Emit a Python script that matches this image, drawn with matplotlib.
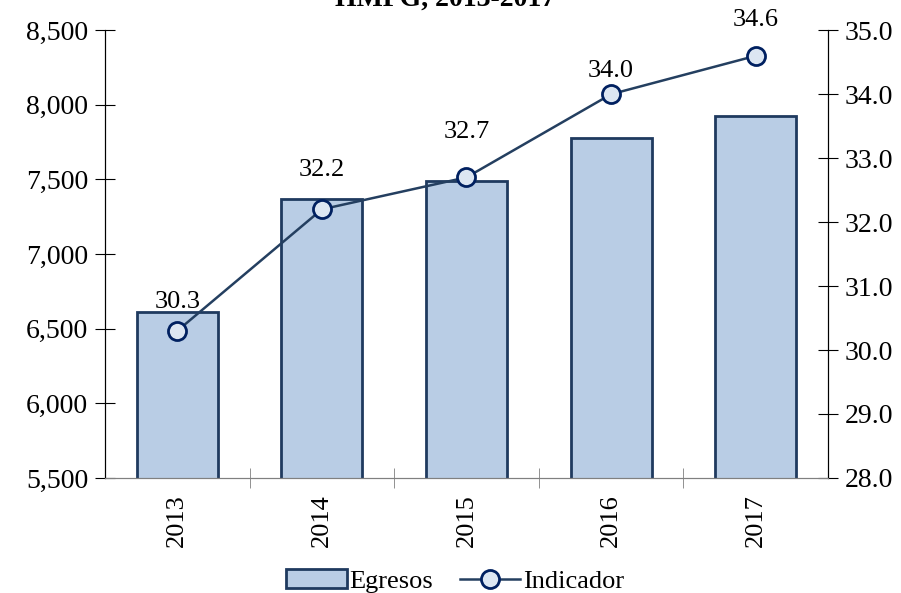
import matplotlib.pyplot as plt

anios = ['2013', '2014', '2015', '2016', '2017']
egresos = [6610, 7370, 7490, 7775, 7925]
indicador = [30.3, 32.2, 32.7, 34.0, 34.6]

plt.rcParams['font.family'] = ['Liberation Serif', 'DejaVu Serif']

fig = plt.figure(figsize=(9.01, 5.93), dpi=100)
ax = fig.add_axes([0.1165, 0.194, 0.8025, 0.755])
ax2 = ax.twinx()

x = range(len(anios))
ax.bar(x, egresos, width=0.56, color='#B9CDE5', edgecolor='#1F3A5F', linewidth=2,
       label='Egresos', zorder=2)
ax.set_ylim(5500, 8500)
ax.set_xlim(-0.5, 4.5)
ax.set_yticks(range(5500, 8501, 500))
ax.set_yticklabels([f'{v:,}' for v in range(5500, 8501, 500)])
ax.set_xticks(x)
ax.set_xticklabels(anios, rotation=90)
ax.set_xticks([i + 0.5 for i in range(4)], minor=True)
ax.tick_params(axis='x', which='major', length=0, labelsize=19, pad=12)
ax.tick_params(axis='x', which='minor', direction='inout', length=14, color='#808080')
ax.tick_params(axis='y', direction='inout', length=14, labelsize=20, pad=5)

ax2.plot(x, indicador, '-o', color='#243F60', linewidth=1.8, markersize=13,
         markerfacecolor='#DCE6F2', markeredgecolor='#002060', markeredgewidth=2,
         label='Indicador', zorder=3)
ax2.set_ylim(28.0, 35.0)
ax2.set_yticks([28 + i for i in range(8)])
ax2.set_yticklabels([f'{28 + i:.1f}' for i in range(8)])
ax2.tick_params(axis='y', direction='inout', length=14, labelsize=20, pad=5)

# desplazamiento de las etiquetas (en puntos)
desp = [21, 28, 33, 17, 26]
for i, v in enumerate(indicador):
    ax2.annotate(f'{v:.1f}', (i, v), xytext=(0, desp[i]), textcoords='offset points',
                 ha='center', va='center', fontsize=19)

for a in (ax, ax2):
    a.spines['top'].set_visible(False)
    a.spines['bottom'].set_color('#808080')
    a.spines['left'].set_color('black')
    a.spines['right'].set_color('black')

# titulo (cortado en la parte superior)
fig.text(0.494, 1 - 6 / 593, 'HMPG, 2013-2017', ha='center', va='baseline',
         fontsize=20, fontweight='bold')

h1, l1 = ax.get_legend_handles_labels()
h2, l2 = ax2.get_legend_handles_labels()
fig.legend(h1 + h2, l1 + l2, loc='center', bbox_to_anchor=(0.505, 1 - 581 / 593),
           ncol=2, frameon=False, fontsize=19, handlelength=2.3, handletextpad=0.1,
           columnspacing=1.0)

fig.savefig('out.png', dpi=100)
